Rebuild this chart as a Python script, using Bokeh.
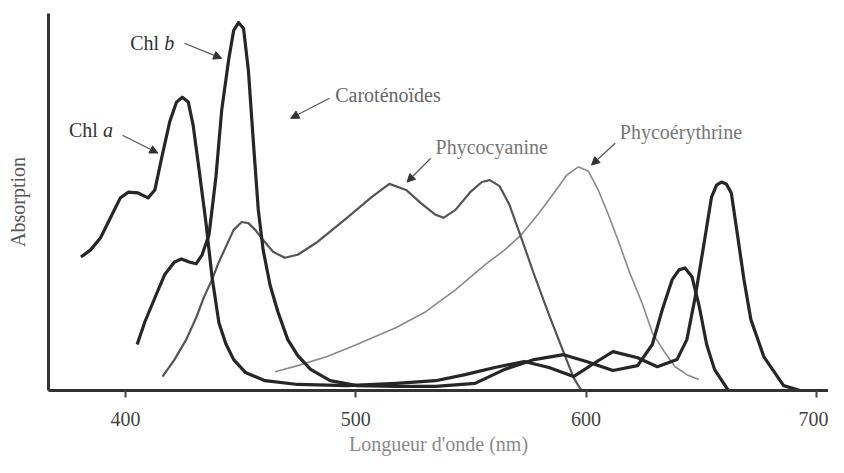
from bokeh.plotting import figure
from bokeh.models import Range1d, FixedTicker, Label, Arrow, NormalHead
from bokeh.embed import file_html
from bokeh.resources import INLINE

# ---- data (wavelength in nm, absorption in arbitrary units 0-100) ----
chla_nm = [380.7, 384.9, 389.2, 393.5, 397.8, 401.2, 405.5, 409.8, 412.8, 415.7,
           419.2, 422.2, 424.7, 427.3, 429.4, 432.0, 435.0, 437.6, 440.6, 443.6,
           447.0, 452.1, 460.6, 474.8, 496.2, 517.6, 534.7, 547.5, 560.4, 573.2,
           583.9, 594.6, 603.2, 611.7, 622.4, 631.0, 639.5, 643.8, 647.2, 651.5,
           654.5, 656.7, 658.8, 660.9, 663.1, 666.1, 668.6, 671.6, 677.2, 685.8, 693.0]
chla_abs = [35.4, 37.3, 40.5, 45.8, 51.1, 52.6, 52.4, 51.1, 53.2, 61.6,
            71.2, 76.5, 77.8, 76.5, 70.4, 58.5, 44.4, 30.2, 18.0, 12.4,
            8.2, 4.8, 2.6, 1.6, 1.3, 1.9, 2.6, 4.2, 6.1, 7.7,
            6.1, 3.7, 7.1, 10.3, 8.7, 6.3, 8.2, 13.5, 24.1, 39.9,
            51.3, 54.5, 55.3, 54.8, 52.4, 39.9, 29.4, 18.8, 9.0, 1.3, 0.0]

chlb_nm = [405.1, 408.5, 412.8, 417.0, 421.3, 424.3, 427.7, 430.7, 433.3, 436.3,
           439.3, 441.8, 444.8, 447.0, 449.1, 451.3, 453.4, 455.5, 457.7, 459.8,
           462.8, 466.2, 470.5, 474.8, 480.4, 488.9, 500.5, 517.6, 534.7, 551.8,
           564.7, 577.5, 590.3, 600.2, 611.7, 622.4, 628.8, 633.1, 637.4, 640.4,
           643.0, 646.0, 649.0, 652.4, 655.8, 661.8]
chlb_abs = [12.2, 18.3, 24.6, 30.7, 34.1, 34.9, 34.1, 33.6, 36.0, 41.3,
            56.6, 74.3, 87.6, 95.5, 97.6, 96.0, 84.9, 66.4, 47.9, 37.3,
            28.0, 20.9, 13.5, 9.3, 5.6, 2.6, 1.3, 1.1, 1.1, 1.9,
            5.6, 8.2, 9.5, 7.7, 5.3, 6.6, 12.2, 21.4, 29.4, 32.0,
            32.5, 30.2, 22.8, 12.2, 5.6, 0.0]

carot_phyco_nm = [416.1, 421.3, 426.4, 430.7, 434.2, 437.6, 440.6, 443.6, 447.0, 450.5,
                  453.4, 456.4, 459.8, 464.1, 469.2, 474.8, 483.4, 496.2, 506.9, 514.6,
                  521.9, 528.3, 534.7, 538.1, 543.3, 549.7, 554.8, 558.2, 562.5, 566.8,
                  571.9, 577.5, 583.9, 590.3, 594.6, 598.0]
carot_phyco_abs = [3.7, 8.2, 13.5, 19.3, 24.9, 29.4, 34.1, 38.1, 42.6, 44.7,
                   44.4, 42.6, 39.9, 36.8, 35.2, 36.0, 39.4, 45.8, 51.3, 54.8,
                   53.2, 49.7, 46.6, 45.8, 47.9, 52.6, 55.3, 55.8, 54.2, 49.2,
                   40.5, 30.7, 20.1, 10.1, 3.4, 0.0]

phycoery_nm = [465.0, 474.8, 487.6, 500.5, 517.6, 530.4, 543.3, 556.1, 564.7, 571.9,
               579.6, 586.1, 591.6, 596.7, 601.0, 605.3, 609.6, 613.9, 619.0, 624.6,
               628.8, 634.0, 638.7, 643.8, 649.0]
phycoery_abs = [5.0, 6.6, 9.0, 12.2, 16.7, 20.9, 26.7, 33.3, 37.3, 41.3,
                47.1, 52.4, 57.1, 59.3, 58.2, 53.2, 46.8, 39.9, 31.2, 22.8,
                15.3, 10.3, 6.3, 4.2, 2.9]

x_ticks = [400, 500, 600, 700]

# ---- layout constants ----
FONT = "Liberation Serif"
p = figure(width=828, height=457,
           x_range=Range1d(366.6, 705.3), y_range=Range1d(0, 100),
           output_backend="svg", toolbar_location=None,
           min_border_left=48, min_border_right=0,
           min_border_top=13, min_border_bottom=66)
p.outline_line_color = None
p.xgrid.visible = False
p.ygrid.visible = False
p.background_fill_color = "white"
p.border_fill_color = "white"

# curves
p.line(phycoery_nm, phycoery_abs, line_color="#8a8a8a", line_width=1.6, line_join="round")
p.line(carot_phyco_nm, carot_phyco_abs, line_color="#555555", line_width=2.2, line_join="round")
p.line(chlb_nm, chlb_abs, line_color="#262626", line_width=3.2, line_join="round")
p.line(chla_nm, chla_abs, line_color="#262626", line_width=3.2, line_join="round")

# axes
p.xaxis.ticker = FixedTicker(ticks=x_ticks)
p.xaxis.axis_line_width = 3
p.xaxis.axis_line_color = "#333333"
p.xaxis.major_tick_line_color = "#444444"
p.xaxis.major_tick_line_width = 2
p.xaxis.major_tick_out = 7
p.xaxis.major_tick_in = 0
p.xaxis.minor_tick_line_color = None
p.xaxis.major_label_standoff = 14
p.xaxis.major_label_text_font = FONT
p.xaxis.major_label_text_font_size = "20px"
p.xaxis.major_label_text_color = "#444444"
p.xaxis.axis_label = "Longueur d'onde (nm)"
p.xaxis.axis_label_text_font = FONT
p.xaxis.axis_label_text_font_size = "20px"
p.xaxis.axis_label_text_font_style = "normal"
p.xaxis.axis_label_text_color = "#8a8a8a"
p.xaxis.axis_label_standoff = 4

p.yaxis.ticker = FixedTicker(ticks=[])
p.yaxis.axis_line_width = 3
p.yaxis.axis_line_color = "#333333"
p.yaxis.major_tick_line_color = None
p.yaxis.minor_tick_line_color = None
p.yaxis.major_label_standoff = 0
p.yaxis.axis_label = "Absorption"
p.yaxis.axis_label_text_font = FONT
p.yaxis.axis_label_text_font_size = "20px"
p.yaxis.axis_label_text_font_style = "normal"
p.yaxis.axis_label_text_color = "#555555"
p.yaxis.axis_label_standoff = 20

# annotations: (text, italic suffix, x, y, arrow start, arrow end, colour)
annots = [
    ("Chl ", "b", 402.1, 92.1, (425.6, 92.1), (441.8, 88.1), "#333333"),
    ("Chl ", "a", 375.5, 69.0, (398.7, 67.7), (414.1, 63.0), "#333333"),
    ("Caroténoïdes", "", 491.1, 78.3, (488.6, 77.5), (471.8, 72.2), "#666666"),
    ("Phycocyanine", "", 534.7, 64.6, (532.6, 61.6), (522.3, 55.3), "#777777"),
    ("Phycoérythrine", "", 614.7, 68.5, (612.7, 65.6), (602.4, 59.8), "#777777"),
]
for txt, ital, ax, ay, a0, a1, col in annots:
    p.add_layout(Label(x=ax, y=ay, text=txt, text_font=FONT, text_font_size="20px",
                       text_color=col, text_baseline="middle", text_align="left"))
    if ital:
        p.add_layout(Label(x=ax, y=ay, x_offset=34, text=ital, text_font=FONT,
                           text_font_size="20px", text_font_style="italic",
                           text_color=col, text_baseline="middle", text_align="left"))
    p.add_layout(Arrow(x_start=a0[0], y_start=a0[1], x_end=a1[0], y_end=a1[1],
                       line_color="#555555", line_width=1.2,
                       end=NormalHead(size=8, fill_color="#333333", line_color="#333333")))

open("out.html", "w").write(file_html(p, INLINE))
